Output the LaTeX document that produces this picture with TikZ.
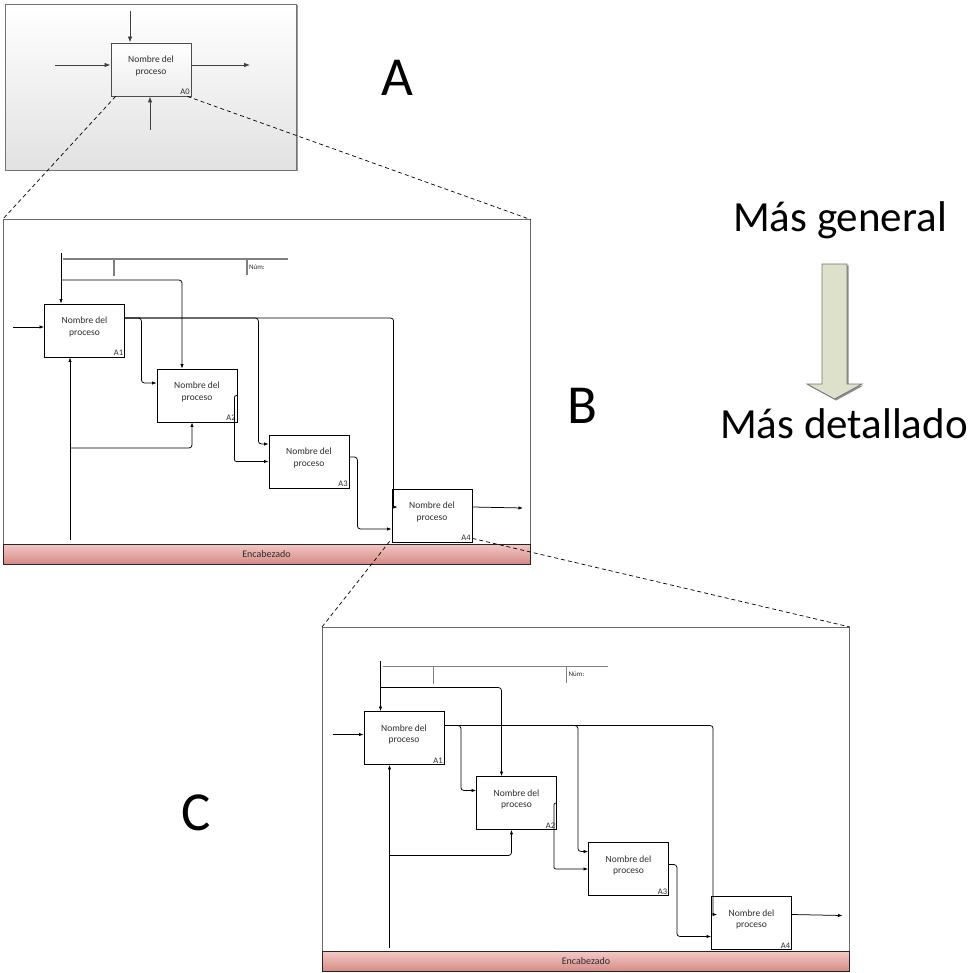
\documentclass[tikz,border=0pt]{standalone}
\usepackage{fontspec}
\setmainfont{Carlito}
\usetikzlibrary{arrows.meta,shadows}

\definecolor{framegray}{RGB}{105,105,105}
\definecolor{titlegray}{RGB}{128,128,128}
\definecolor{barTop}{RGB}{242,200,197}
\definecolor{barBot}{RGB}{214,138,133}
\definecolor{arrowfill}{RGB}{221,225,203}
\definecolor{panelbot}{RGB}{226,226,226}
\definecolor{txtgray}{RGB}{45,45,45}

\tikzset{
  procbox/.style={draw=black, line width=0.8pt, fill=white,
    minimum width=80pt, minimum height=53pt, inner sep=0pt},
  boxtext/.style={font=\fontsize{9.5}{11.5}\selectfont, align=center, text=txtgray, inner sep=0pt},
  idtext/.style={font=\fontsize{8.5}{9}\selectfont, text=txtgray, inner sep=1.5pt},
  flow/.style={line width=0.75pt, rounded corners=3pt, -{Latex[length=4.5pt,width=3.4pt]}},
  plainflow/.style={line width=0.75pt, rounded corners=3pt},
  aflow/.style={line width=0.8pt, draw=black!75, -{Latex[length=6pt,width=4.5pt]}},
  panelframe/.style={draw=framegray, line width=1pt, fill=white,
    minimum width=527pt, minimum height=344pt, inner sep=0pt},
  headerbar/.style={draw=black!85, line width=0.8pt, top color=barTop, bottom color=barBot,
    minimum width=527pt, minimum height=20pt, inner sep=0pt,
    font=\fontsize{10}{12}\selectfont, text=txtgray},
  titleline/.style={draw=titlegray, line width=1.2pt},
  numtext/.style={font=\fontsize{7}{8}\selectfont, text=txtgray, inner sep=1pt},
  zoomline/.style={line width=0.7pt, dash pattern=on 4pt off 3pt},
  bigletter/.style={font=\fontsize{55}{60}\selectfont, inner sep=0pt},
  sidetext/.style={font=\fontsize{43}{50}\selectfont, inner sep=0pt},
  panelA/.style={draw=black!55, line width=0.8pt, top color=white, bottom color=panelbot,
    minimum width=291pt, minimum height=166pt, inner sep=0pt,
    drop shadow={shadow xshift=1.5pt, shadow yshift=-1.5pt, fill=black!50, opacity=0.8}}
}

% process box: #2 name, #3 position, #4 identifier
\newcommand\procnode[4][]{%
  \node[procbox, #1,
    label={[boxtext, name=#2-t, yshift=3.5pt]center:{Nombre del\\proceso}},
    label={[idtext, name=#2-id, anchor=south east]south east:#4}] (#2) at #3 {};}

% one decomposition sheet with four activities; #1 is the name prefix
\newcommand\idefpanel[1]{%
  \node[panelframe] (#1frame) at (266.5,392) {};
  \node[headerbar] (#1bar) at (266.5,554) {Encabezado};
  % title block
  \coordinate (#1tl) at (63,259);
  \coordinate (#1tr) at (288,259);
  \coordinate (#1tk1) at (114,259);
  \coordinate (#1tk2) at (247,259);
  \draw[titleline] (#1tl) -- (#1tr);
  \draw[titleline] (#1tk1) -- ++(0,17);
  \draw[titleline] (#1tk2) -- ++(0,16);
  \node[numtext, anchor=west] (#1num) at (248,267) {Núm:};
  % activities
  \procnode{#1a1}{(84.5,330.5)}{A1}
  \procnode{#1a2}{(197,395.5)}{A2}
  \procnode{#1a3}{(309,461.5)}{A3}
  \procnode{#1a4}{(432,515.5)}{A4}
  % free ends of the boundary arrows
  \coordinate (#1ctl) at (61,253);
  \coordinate (#1cb) at (61,280);
  \coordinate (#1in) at (13,327);
  \coordinate (#1mech) at (70,540);
  \coordinate (#1mb) at (70,448);
  \coordinate (#1out) at (523,508);
  % controls
  \draw[flow] (#1ctl) -- (#1ctl |- #1a1.north);
  \draw[flow] (#1cb) -| ([xshift=-15pt]#1a2.north);
  % input
  \draw[flow] (#1in) -- (#1in -| #1a1.west);
  % mechanisms
  \draw[flow] (#1mech) -- (#1mech |- #1a1.south);
  \draw[flow] (#1mb) -| ([xshift=-5pt]#1a2.south);
  % outputs of A1
  \draw[flow] ([yshift=12.5pt]#1a1.east) -- ++(16.5,0) |- ([yshift=12.5pt]#1a2.west);
  \draw[flow] ([yshift=12.5pt]#1a1.east) -- ++(133.5,0) |- ([yshift=17.5pt]#1a3.west);
  \draw[plainflow] ([yshift=12.5pt]#1a1.east) -| ([xshift=2pt,yshift=8.5pt]#1a4.west);
  \draw[flow] ([xshift=2pt,yshift=8.5pt]#1a4.west) -- ++(4,0);
  % outputs of A2, A3, A4
  \draw[flow, rounded corners=2pt] (#1a2.east) -- ++(-3,0) |- (#1a3.west);
  \draw[flow] ([yshift=4.5pt]#1a3.east) -- ++(8,0) |- ([yshift=-13.5pt]#1a4.west);
  \draw[flow] ([yshift=8.5pt]#1a4.east) -- (#1out);
}

\begin{document}
\begin{tikzpicture}[x=1pt, y=-1pt]
  \useasboundingbox (0,0) rectangle (972,973);

  % context diagram
  \node[panelA] (Aframe) at (150.5,87) {};
  \procnode[draw=black!70, top color=white, bottom color=black!7]{A0}{(151,69.5)}{A0}
  \coordinate (actl) at (130,11);
  \coordinate (ain) at (55,65);
  \coordinate (aout) at (250,65);
  \coordinate (amech) at (150,130);
  \draw[aflow] (actl) -- (actl |- A0.north);
  \draw[aflow] (ain) -- (ain -| A0.west);
  \draw[aflow] (aout -| A0.east) -- (aout);
  \draw[aflow] (amech) -- (amech |- A0.south);

  % first level decomposition
  \idefpanel{B}

  % second level decomposition
  \begin{scope}[shift={(319.5,407.5)}]
    \idefpanel{C}
  \end{scope}

  % zoom guides
  \draw[zoomline] ([xshift=5pt]A0.south west) -- (Bframe.north west);
  \draw[zoomline] ([xshift=-4pt]A0.south east) -- (Bframe.north east);
  \draw[zoomline] ([xshift=-2pt,yshift=1pt]Ba4.south west) -- (Cframe.north west);
  \draw[zoomline] ([yshift=4pt]Ba4.south east) -- (Cframe.north east);

  % level letters
  \node[bigletter, anchor=base] (labA) at (397.5,96) {A};
  \node[bigletter, anchor=base] (labB) at (582.5,423) {B};
  \node[bigletter, anchor=base] (labC) at (196,830) {C};

  % direction of detail
  \node[sidetext, anchor=base] (gen) at (840,232) {Más general};
  \node[sidetext, anchor=base] (det) at (844,438) {Más detallado};
  \fill[black!45] (823.5,265.5) -- (848.5,265.5) -- (848.5,385.5) -- (863.5,385.5)
    -- (836,400.5) -- (808.5,385.5) -- (823.5,385.5) -- cycle;
  \draw[fill=arrowfill, draw=black!55, line width=0.7pt]
    (822,264) -- (847,264) -- (847,384) -- (862,384)
    -- (834.5,399) -- (807,384) -- (822,384) -- cycle;
\end{tikzpicture}
\end{document}
